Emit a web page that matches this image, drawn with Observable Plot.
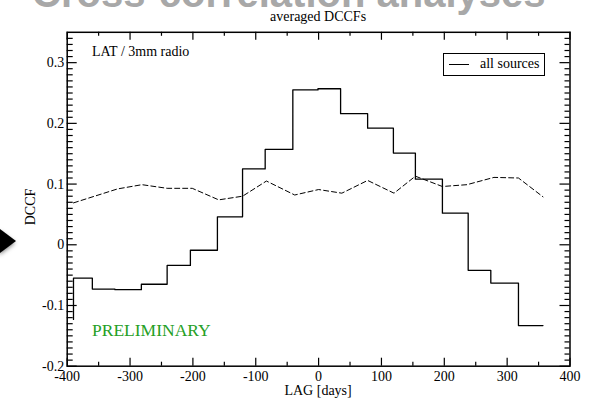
<!DOCTYPE html>
<html><head><meta charset="utf-8">
<script src="https://cdn.jsdelivr.net/npm/d3@7"></script>
<script src="https://cdn.jsdelivr.net/npm/@observablehq/plot@0.6"></script>
<style>
html,body{margin:0;padding:0;background:#fff;}
#wrap{position:relative;width:591px;height:398px;overflow:hidden;background:#fff;}
.legend{position:absolute;left:443px;top:53px;width:100px;height:21px;border:1px solid #000;background:#fff;font:14px "Liberation Serif",serif;}
.legend .ln{position:absolute;left:5px;top:10px;width:20px;border-top:1.3px solid #000;}
.legend .tx{position:absolute;left:36px;top:2px;line-height:16px;white-space:nowrap;}
.arrow{position:absolute;left:0;top:229px;width:0;height:0;border-top:12px solid transparent;border-bottom:12px solid transparent;border-left:16px solid #000;filter:drop-shadow(-1px 2px 2px rgba(0,0,0,0.5));}
</style></head><body><div id="wrap"></div>
<script>
// ---- data ----
const xTicks = [-400, -300, -200, -100, 0, 100, 200, 300, 400];
const xTickLabels = ["-400", "-300", "-200", "-100", "0", "100", "200", "300", "400"];
const yTicks = [-0.2, -0.1, 0, 0.1, 0.2, 0.3];
const yTickLabels = ["-0.2", "-0.1", "0", "0.1", "0.2", "0.3"];

// solid step curve (all sources): bin left edges and values
const stepLag  = [-390, -390, -360, -324, -282, -241, -204, -161, -121, -85, -41, -1, 35, 78, 119, 154, 197, 238, 274, 318, 357];
const stepDccf = [-0.123, -0.055, -0.073, -0.074, -0.065, -0.034, -0.009, 0.046, 0.125, 0.157, 0.255, 0.257, 0.216, 0.192, 0.151, 0.108, 0.052, -0.042, -0.063, -0.133, -0.133];

// dashed curve
const dashLag  = [-390, -320, -281, -241, -201, -159, -121, -83, -38, 0, 37, 78, 120, 154, 197, 236, 279, 318, 357];
const dashDccf = [0.069, 0.092, 0.099, 0.093, 0.093, 0.074, 0.080, 0.105, 0.082, 0.091, 0.085, 0.106, 0.085, 0.113, 0.096, 0.099, 0.111, 0.110, 0.079];

const title = "averaged DCCFs";
const xLabel = "LAG [days]";
const yLabel = "DCCF";
const note = "LAT / 3mm radio";
const stamp = "PRELIMINARY";
const legendLabel = "all sources";
const header = "Cross-correlation analyses";

// ---- layout ----
const W = 591, H = 398, mL = 66.7, mR = 21.5, mT = 31.8, mB = 32.3;
const innerW = W - mL - mR, innerH = H - mT - mB;

const stepData = stepLag.map((x, i) => ({x, y: stepDccf[i]}));
const dashData = dashLag.map((x, i) => ({x, y: dashDccf[i]}));
const xMinor = d3.range(-350, 400, 100);
const yMinor = d3.range(-19, 35).filter(i => i % 10 !== 0).map(i => i / 100);

const serif = "Liberation Serif, Times New Roman, serif";

const chart = Plot.plot({
  width: W, height: H,
  marginLeft: mL, marginRight: mR, marginTop: mT, marginBottom: mB,
  style: {fontFamily: serif, fontSize: "14px", background: "white", color: "black", overflow: "hidden"},
  x: {domain: [-400, 400]},
  y: {domain: [-0.2, 0.35]},
  marks: [
    // inward ticks on all four sides
    Plot.tickX(xTicks, {x: d => d, insetTop: innerH - 8, strokeWidth: 1.2}),
    Plot.tickX(xMinor, {x: d => d, insetTop: innerH - 4, strokeWidth: 1.2}),
    Plot.tickX(xTicks, {x: d => d, insetBottom: innerH - 8, strokeWidth: 1.2}),
    Plot.tickX(xMinor, {x: d => d, insetBottom: innerH - 4, strokeWidth: 1.2}),
    Plot.tickY(yTicks, {y: d => d, insetRight: innerW - 10, strokeWidth: 1.2}),
    Plot.tickY(yMinor, {y: d => d, insetRight: innerW - 6, strokeWidth: 1.2}),
    Plot.tickY(yTicks, {y: d => d, insetLeft: innerW - 10, strokeWidth: 1.2}),
    Plot.tickY(yMinor, {y: d => d, insetLeft: innerW - 5, strokeWidth: 1.2}),
    Plot.axisX(xTicks, {tickSize: 0, tickPadding: 5, label: null, fontSize: 14,
      tickFormat: d => xTickLabels[xTicks.indexOf(d)]}),
    Plot.axisY(yTicks, {tickSize: 0, tickPadding: 3, label: null, fontSize: 14,
      tickFormat: d => yTickLabels[yTicks.indexOf(d)]}),
    Plot.line(dashData, {x: "x", y: "y", stroke: "black", strokeWidth: 1, strokeDasharray: "5,3"}),
    Plot.line(stepData, {x: "x", y: "y", curve: "step-after", stroke: "black", strokeWidth: 1.3}),
    Plot.frame({stroke: "black", strokeWidth: 1.5})
  ]
});

// text annotations placed by baseline
const svg = d3.select(chart);
const g = svg.append("g").attr("font-family", serif).attr("font-size", 14).attr("fill", "black").attr("text-anchor", "start");
g.append("text").attr("x", 32).attr("y", 7).attr("font-family", "Liberation Sans, Arial, sans-serif")
  .attr("font-weight", "bold").attr("font-size", 40).attr("fill", "#a8a8a8").text(header);
g.append("text").attr("x", (mL + W - mR) / 2).attr("y", 20.5).attr("text-anchor", "middle").text(title);
g.append("text").attr("x", 92).attr("y", 56).text(note);
g.append("text").attr("x", 92).attr("y", 336).attr("font-size", 17.5).attr("fill", "#25a025").text(stamp);
g.append("text").attr("x", (mL + W - mR) / 2).attr("y", 395).attr("text-anchor", "middle").text(xLabel);
g.append("text").attr("transform", "translate(35,207) rotate(-90)").attr("text-anchor", "middle").text(yLabel);

const wrap = document.getElementById("wrap");
wrap.appendChild(chart);
const leg = document.createElement("div");
leg.className = "legend";
leg.innerHTML = '<span class="ln"></span><span class="tx"></span>';
leg.querySelector(".tx").textContent = legendLabel;
wrap.appendChild(leg);
const arr = document.createElement("div");
arr.className = "arrow";
wrap.appendChild(arr);
chart.style.position = "absolute";
chart.style.left = "0";
chart.style.top = "0";
</script></body></html>
